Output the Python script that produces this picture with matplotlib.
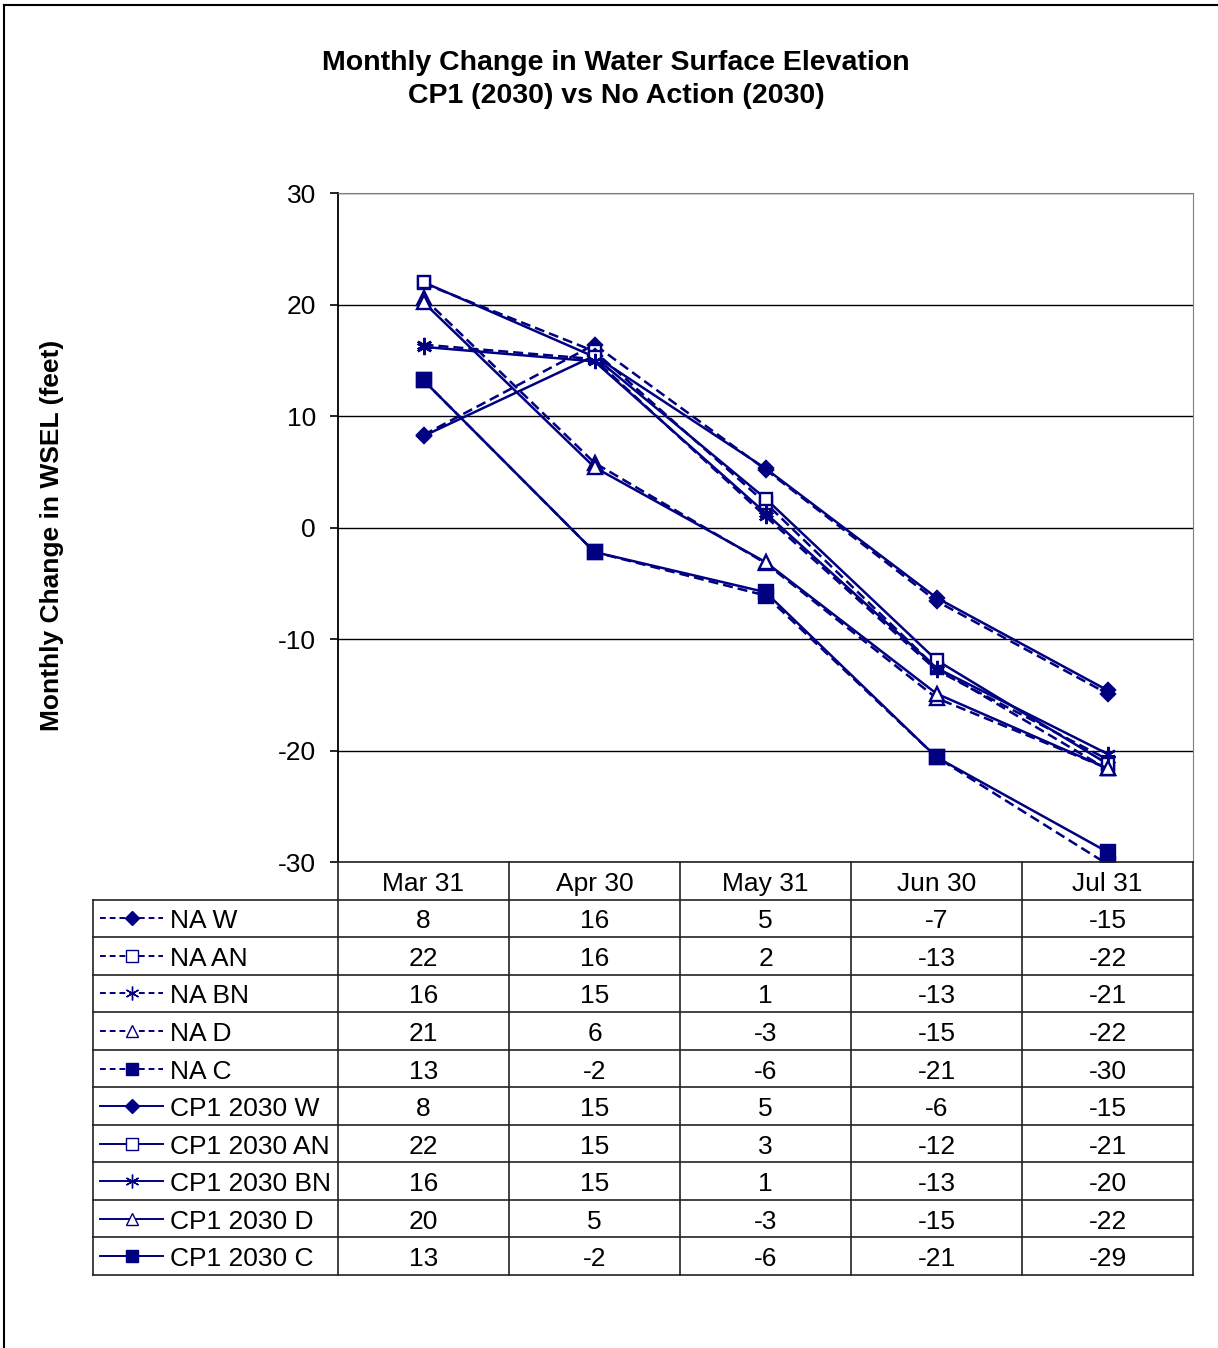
#!/usr/bin/env python3
"""Monthly change in WSEL: CP1 (2030) vs No Action (2030), Excel-style chart with data table."""
import numpy as np
import matplotlib
matplotlib.use("Agg")
import matplotlib.pyplot as plt
from matplotlib.lines import Line2D

plt.rcParams["font.family"] = ["Liberation Sans", "DejaVu Sans"]
plt.rcParams["axes.unicode_minus"] = False

months = ["Mar 31", "Apr 30", "May 31", "Jun 30", "Jul 31"]

series_names = ["NA W", "NA AN", "NA BN", "NA D", "NA C",
                "CP1 2030 W", "CP1 2030 AN", "CP1 2030 BN", "CP1 2030 D", "CP1 2030 C"]

na_w = [8.3, 16.4, 5.2, -6.6, -14.9]
na_an = [21.9, 15.8, 2.2, -12.6, -21.7]
na_bn = [16.4, 15.1, 1.0, -12.8, -20.8]
na_d = [20.6, 5.8, -3.2, -15.3, -21.6]
na_c = [13.2, -2.2, -6.1, -20.6, -30.2]
cp1_w = [8.2, 15.4, 5.3, -6.3, -14.6]
cp1_an = [22.0, 15.3, 2.6, -11.9, -21.2]
cp1_bn = [16.2, 14.9, 1.3, -12.6, -20.3]
cp1_d = [20.2, 5.4, -3.1, -14.9, -21.6]
cp1_c = [13.2, -2.2, -5.8, -20.6, -29.1]

values = [na_w, na_an, na_bn, na_d, na_c, cp1_w, cp1_an, cp1_bn, cp1_d, cp1_c]

NAVY = "#000080"
W, H = 1218, 1348
FS = 19
# marker style per water-year type: (marker, filled, size)
mk = {"W": ("D", True, 7.5), "AN": ("s", False, 9), "BN": ((6, 2, 0), False, 11),
      "D": ("^", False, 10), "C": ("s", True, 9.5)}

fig = plt.figure(figsize=(W / 100, H / 100), dpi=100)

def px(x0, y0, x1, y1):
    return [x0 / W, 1 - y1 / H, (x1 - x0) / W, (y1 - y0) / H]

# outer chart frame (only left/top visible in crop)
fig.add_artist(Line2D([4 / W, 4 / W], [0, 1 - 5 / H], color="black", lw=1.5))
fig.add_artist(Line2D([4 / W, 1], [1 - 5 / H, 1 - 5 / H], color="black", lw=1.5))

ax = fig.add_axes(px(338, 193, 1193, 862))
x = np.arange(len(months))
for name, v in zip(series_names, values):
    kind = name.split()[-1]
    m, filled, ms = mk[kind]
    ls = "--" if name.startswith("NA") else "-"
    ax.plot(x, v, ls=ls, color=NAVY, lw=1.8, marker=m, ms=ms,
            mfc=NAVY if filled else "white", mec=NAVY, mew=1.7,
            dashes=(4, 2) if ls == "--" else (None, None), clip_on=True)

ax.set_xlim(-0.5, len(months) - 0.5)
ax.set_ylim(-30, 30)
ax.set_yticks(range(-30, 31, 10))
ax.set_xticks([])
ax.tick_params(axis="y", labelsize=FS, length=6, width=1.2, direction="out", pad=10)
ax.yaxis.grid(True, color="black", lw=1.0)
ax.set_axisbelow(True)
for s in ("top", "right"):
    ax.spines[s].set_color("gray")
ax.spines["left"].set_linewidth(1.3)
ax.spines["bottom"].set_visible(False)

fig.text(0.506, 1 - 63 / H, "Monthly Change in Water Surface Elevation",
         ha="center", va="center", fontsize=20.5, fontweight="bold")
fig.text(0.506, 1 - 96 / H, "CP1 (2030) vs No Action (2030)",
         ha="center", va="center", fontsize=20.5, fontweight="bold")
fig.text(52 / W, 1 - 535 / H, "Monthly Change in WSEL (feet)", rotation=90,
         ha="center", va="center", fontsize=19, fontweight="bold")

# ---- data table below the plot ------------------------------------------
left = -0.5 - 245 / 171
nrow = len(series_names) + 1
tab = fig.add_axes(px(93, 862, 1193, 1275))
tab.set_xlim(left, 4.5)
tab.set_ylim(nrow, 0)
tab.axis("off")
lc = dict(color="#222222", lw=1.2, clip_on=False)
tab.plot([-0.5, 4.5], [0, 0], **lc)
for r in range(1, nrow + 1):
    tab.plot([left, 4.5], [r, r], **lc)
tab.plot([left, left], [1, nrow], **lc)
for c in np.arange(-0.5, 5.0, 1.0):
    tab.plot([c, c], [0, nrow], **lc)

dy = 0.08  # Excel sits table text a touch low in the cell
for i, mth in enumerate(months):
    tab.text(i, 0.5 + dy, mth, ha="center", va="center", fontsize=FS)

for r, (name, v) in enumerate(zip(series_names, values), start=1):
    kind = name.split()[-1]
    m, filled, ms = mk[kind]
    yc = r + 0.5
    ls = "--" if name.startswith("NA") else "-"
    tab.plot([-1.892, -1.523], [yc, yc], color=NAVY, lw=1.4, ls=ls,
             dashes=(3, 2) if ls == "--" else (None, None), clip_on=False)
    tab.plot([-1.705], [yc], marker=m, ms=ms * 0.9, color=NAVY,
             mfc=NAVY if filled else "white", mec=NAVY, mew=1.0, clip_on=False)
    tab.text(-1.48, yc + dy, name, ha="left", va="center", fontsize=FS)
    for i, val in enumerate(v):
        tab.text(i, yc + dy, f"{val:.0f}", ha="center", va="center", fontsize=FS)

fig.savefig("out.png", dpi=100, facecolor="white")
